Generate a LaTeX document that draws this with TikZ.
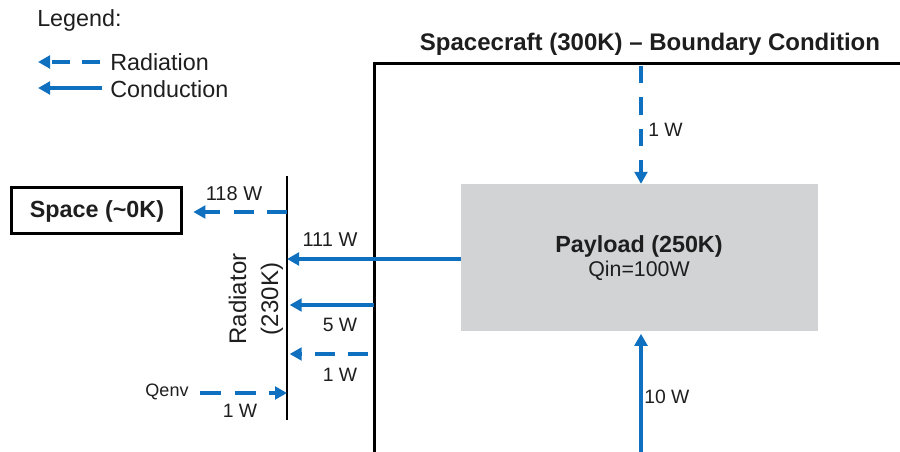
\documentclass[tikz,border=0pt]{standalone}
\usepackage{fontspec}
\setmainfont{Liberation Sans}
\usetikzlibrary{arrows.meta}
\definecolor{flow}{HTML}{1070C0}
\definecolor{pay}{HTML}{D1D3D4}
\definecolor{txt}{HTML}{1E1E1E}
\begin{document}
\begin{tikzpicture}[x=0.75pt,y=-0.75pt,
  cond/.style={draw=flow, line width=2.8pt, -{Triangle[length=9pt,width=9.5pt]}},
  rad/.style={cond, dash pattern=on 15pt off 10pt},
  lbl/.style={font=\fontsize{14.5}{17}\selectfont, inner sep=0pt, text=txt},
  big/.style={font=\fontsize{17.5}{21}\selectfont, inner sep=0pt, text=txt},
  bigb/.style={font=\bfseries\fontsize{17.5}{21}\selectfont, inner sep=0pt, text=txt}]
\useasboundingbox (0,0) rectangle (900,452);

% legend
\node[big, anchor=west] (legend) at (37,20) {Legend:};
\coordinate (lr1) at (100,62); \coordinate (lr2) at (38,62);
\coordinate (lc1) at (102,88); \coordinate (lc2) at (38,88);
\draw[rad, dash pattern=on 13.5pt off 9pt] (lr1) -- (lr2);
\draw[cond] (lc1) -- (lc2);
\node[big, anchor=west] (legrad) at (110,62) {Radiation};
\node[big, anchor=west] (legcond) at (110,89) {Conduction};

% spacecraft frame
\coordinate (fr1) at (900,64); \coordinate (fr2) at (374,64); \coordinate (fr3) at (374,452);
\draw[line width=2.25pt] (fr1) -- (fr2) -- (fr3);
\node[bigb, font=\bfseries\fontsize{18}{21}\selectfont] (title) at (650,44) {Spacecraft (300K) – Boundary Condition};

% payload
\node[fill=pay, minimum width=268pt, minimum height=110pt, inner sep=0pt] (payload) at (639.5,257.5) {};
\node[bigb] (payname) at (639,246) {Payload (250K)};
\node[big, font=\fontsize{16}{19}\selectfont] (qin) at (639,271) {Qin=100W};

% space
\node[draw, line width=2.25pt, minimum width=127pt, minimum height=34pt, inner sep=0pt] (space) at (96.5,210.5) {};
\node[bigb] (spacetxt) at (97,211) {Space ({\char"7E}0K)};

% radiator
\coordinate (radtop) at (287,176); \coordinate (radbot) at (287,420);
\draw[line width=1.2pt] (radtop) -- (radbot);
\node[big, font=\fontsize{18}{24}\selectfont, rotate=90, align=center] (radtxt) at (256,299) {Radiator\\(230K)};

% flows
\coordinate (r118) at (287,212);
\draw[rad, shorten >=8pt] (r118) -- (space.east |- r118);
\node[lbl, font=\fontsize{15}{18}\selectfont] (l118) at (234,194) {118 W};

\draw[cond] (payload.west |- 0,259) -- (radtop |- 0,259);
\node[lbl, font=\fontsize{15}{18}\selectfont] (l111) at (330,240) {111 W};

\coordinate (f5) at (374,305);
\draw[cond, shorten >=2pt] (f5) -- (radtop |- f5);
\node[lbl] (l5) at (340,325) {5 W};

\coordinate (f1) at (368,354);
\draw[rad, shorten >=2pt] (f1) -- (radtop |- f1);
\node[lbl] (l1r) at (340,375) {1 W};

\coordinate (qe) at (200,393);
\draw[rad, dash pattern=on 16pt off 10pt] (qe) -- (radtop |- qe);
\node[lbl, font=\fontsize{13.5}{16}\selectfont] (qenv) at (167,392) {Qenv};
\node[lbl] (l1q) at (240,411) {1 W};

\coordinate (top1) at (641,66);
\draw[rad, dash pattern=on 13pt off 10.5pt] (top1) -- (payload.north -| top1);
\node[lbl, anchor=west] (l1t) at (648,130) {1 W};

\coordinate (bot10) at (641,452);
\draw[cond, shorten >=2pt] (bot10) -- (payload.south -| bot10);
\node[lbl, anchor=west] (l10) at (644,397) {10 W};
\end{tikzpicture}
\end{document}
